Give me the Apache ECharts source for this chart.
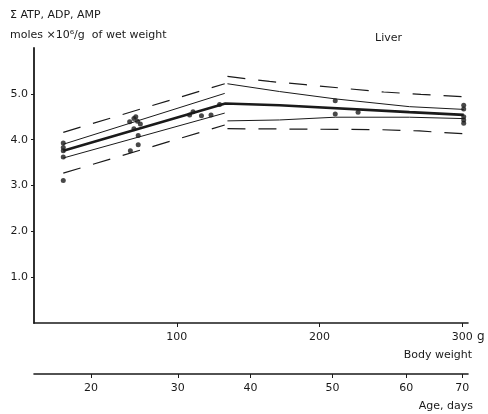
<!DOCTYPE html>
<html>
<head>
<meta charset="utf-8">
<script src="https://cdn.jsdelivr.net/npm/echarts@6/dist/echarts.min.js"></script>
<style>html,body{margin:0;padding:0;background:#fff;}#c{width:488px;height:414px;}</style>
</head>
<body>
<div id="c"></div>
<script>
// ---- data (body weight in g, sum of ATP+ADP+AMP in µmol/g) ----
const weightTicks = [100, 200, 300];
const yTicks = [1, 2, 3, 4, 5];
const ageLabels = [20, 30, 40, 50, 60, 70];
const ageAtWeight = [39.9, 100.7, 151.7, 209, 260.8, 300]; // body weight (g) at each age tick

const points = [
  [20.5, 3.93], [20.5, 3.83], [20.5, 3.76], [20.5, 3.62], [20.5, 3.11],
  [67, 4.39], [70, 4.46], [71.3, 4.50], [72.5, 4.40], [74.5, 4.34], [70, 4.24], [73, 4.09], [73, 3.89], [67.5, 3.76],
  [109, 4.54], [111.4, 4.61], [117.3, 4.52], [124, 4.54], [130, 4.77],
  [211, 4.85], [211, 4.56], [227, 4.60],
  [301, 4.75], [301, 4.67], [301, 4.50], [301, 4.43], [301, 4.36]
];
const meanLine = [[20.5, 3.76], [134, 4.79], [172, 4.75], [263, 4.60], [301, 4.54]];
const upperInnerLeft = [[20.5, 3.90], [133.6, 5.01]];
const lowerInnerLeft = [[20.5, 3.60], [133.6, 4.58]];
const upperOuterLeft = [[20.5, 4.16], [133.6, 5.22]];
const lowerOuterLeft = [[20.5, 3.27], [133.6, 4.32]];
const upperInnerRight = [[135.5, 5.22], [172, 5.05], [211, 4.89], [263, 4.72], [301, 4.66]];
const lowerInnerRight = [[135.5, 4.41], [172, 4.43], [211, 4.49], [263, 4.49], [301, 4.46]];
const upperOuterRight = [[135.5, 5.38], [165, 5.27], [190, 5.20], [217, 5.12], [245, 5.04], [271, 4.99], [300, 4.94]];
const lowerOuterRight = [[135.5, 4.24], [240, 4.22], [270, 4.19], [300, 4.13]];

const FONT = 'DejaVu Sans';
const INK = '#1a1a1a';

function lineSeries(data, width, dashed) {
  return {
    type: 'line', data: data, symbol: 'none', silent: true, z: 2,
    lineStyle: { color: INK, width: width, type: dashed ? [18, 13] : 'solid' }
  };
}

const chart = echarts.init(document.getElementById('c'), null, { renderer: 'canvas' });
chart.setOption({
  animation: false,
  backgroundColor: '#fff',
  grid: { left: 34, right: 20, top: 48, bottom: 91, containLabel: false },
  xAxis: [
    {
      type: 'value', min: 0, max: 304,
      axisLine: { show: true, lineStyle: { color: INK, width: 1.6 } },
      axisTick: { show: true, length: 4, customValues: weightTicks, lineStyle: { color: INK, width: 1 } },
      axisLabel: { customValues: weightTicks, margin: 9, color: INK, fontFamily: FONT, fontSize: 11 },
      splitLine: { show: false }
    },
    {
      type: 'value', min: 0, max: 304, position: 'bottom', offset: 51,
      axisLine: { show: true, lineStyle: { color: INK, width: 1.6 } },
      axisTick: { show: true, length: 4, customValues: ageAtWeight, lineStyle: { color: INK, width: 1 } },
      axisLabel: {
        customValues: ageAtWeight, margin: 9, color: INK, fontFamily: FONT, fontSize: 11,
        formatter: function (v) { const i = ageAtWeight.indexOf(v); return i >= 0 ? String(ageLabels[i]) : ''; }
      },
      splitLine: { show: false }
    }
  ],
  yAxis: {
    type: 'value', min: 0, max: 6,
    axisLine: { show: true, lineStyle: { color: INK, width: 1.8 } },
    axisTick: { show: true, length: 3, customValues: yTicks, lineStyle: { color: INK, width: 1 } },
    axisLabel: { customValues: yTicks, margin: 6, color: INK, fontFamily: FONT, fontSize: 11,
      formatter: function (v) { return v.toFixed(1); } },
    splitLine: { show: false }
  },
  series: [
    lineSeries(upperOuterLeft, 1.2, true),
    lineSeries(lowerOuterLeft, 1.2, true),
    lineSeries(upperOuterRight, 1.2, true),
    lineSeries(lowerOuterRight, 1.2, true),
    lineSeries(upperInnerLeft, 1, false),
    lineSeries(lowerInnerLeft, 1, false),
    lineSeries(upperInnerRight, 1, false),
    lineSeries(lowerInnerRight, 1, false),
    lineSeries(meanLine, 2.6, false),
    {
      type: 'scatter', data: points, symbol: 'circle', symbolSize: 5, z: 3,
      itemStyle: { color: INK }
    }
  ],
  graphic: [
    { type: 'text', x: 10, y: 15, style: { text: 'Σ ATP, ADP, AMP', font: '11px "' + FONT + '"', fill: INK, textVerticalAlign: 'middle' } },
    { type: 'text', x: 10, y: 35, style: { text: 'moles ×10⁶/g  of wet weight', font: '11px "' + FONT + '"', fill: INK, textVerticalAlign: 'middle' } },
    { type: 'text', x: 375, y: 38, style: { text: 'Liver', font: '11px "' + FONT + '"', fill: INK, textVerticalAlign: 'middle' } },
    { type: 'text', x: 477, y: 337, style: { text: 'g', font: '12px "' + FONT + '"', fill: INK, textVerticalAlign: 'middle' } },
    { type: 'text', x: 472, y: 355, style: { text: 'Body weight', font: '11px "' + FONT + '"', fill: INK, textAlign: 'right', textVerticalAlign: 'middle' } },
    { type: 'text', x: 473, y: 406, style: { text: 'Age, days', font: '11px "' + FONT + '"', fill: INK, textAlign: 'right', textVerticalAlign: 'middle' } }
  ]
});
</script>
</body>
</html>
